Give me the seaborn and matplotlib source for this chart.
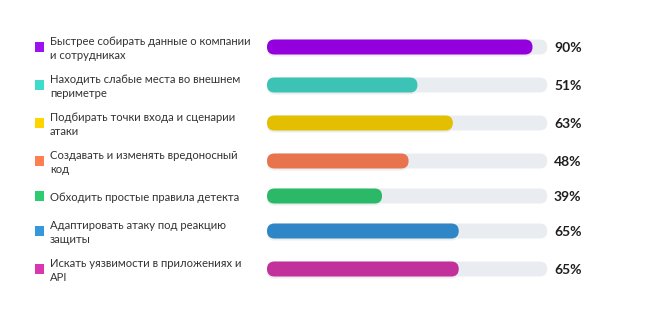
import numpy as np
import pandas as pd
import matplotlib
matplotlib.use('Agg')
import matplotlib.pyplot as plt
from matplotlib.patches import FancyBboxPatch
import seaborn as sns

# Data
labels = [
    "Быстрее собирать данные о компании\nи сотрудниках",
    "Находить слабые места во внешнем\nпериметре",
    "Подбирать точки входа и сценарии\nатаки",
    "Создавать и изменять вредоносный\nкод",
    "Обходить простые правила детекта",
    "Адаптировать атаку под реакцию\nзащиты",
    "Искать уязвимости в приложениях и\nAPI",
]
values = [90, 51, 63, 48, 39, 65, 65]
marker_colors = ["#9B12EE", "#40DCCB", "#FFD400", "#FF7F50", "#2ECC71", "#3498DB", "#D936B0"]
bar_colors = ["#9200DE", "#3CC3B5", "#E4BE00", "#E8744E", "#2BB968", "#2E86C6", "#C1309B"]
track_max = 95

# Layout (pixels)
W, H, DPI = 650, 314, 100
X0 = 267          # left edge of bars
PX = 2.95         # pixels per percent
BAR_H = 15
TRACK = "#E9EDF1"

# row centres from number of label lines
nlines = [l.count("\n") + 1 for l in labels]
ypos = [47.0]
for a, b in zip(nlines[:-1], nlines[1:]):
    ypos.append(ypos[-1] + 26 + 3 * (a + b))

df = pd.DataFrame({"label": labels, "value": values, "y": ypos, "track": track_max})

sns.set_theme(style="white")
plt.rcParams['font.family'] = ['Lato', 'DejaVu Sans']

fig = plt.figure(figsize=(W / DPI, H / DPI), dpi=DPI)
ax = fig.add_axes([0, 0, 1, 1])

sns.barplot(data=df, x="track", y="y", orient="h", native_scale=True,
            color=TRACK, saturation=1, ax=ax)
sns.barplot(data=df, x="value", y="y", hue="label", palette=bar_colors,
            orient="h", native_scale=True, legend=False, saturation=1, ax=ax)

ax.set_xlim(-X0 / PX, (W - X0) / PX)
ax.set_ylim(H, 0)
ax.axis("off")

# swap rectangles for rounded bars
r_x = (BAR_H / 2) / PX
patches = list(ax.patches)
for i, p in enumerate(patches):
    x, w = p.get_x(), p.get_width()
    yc = p.get_y() + p.get_height() / 2
    fc = p.get_facecolor()
    p.remove()
    if i >= len(values):
        shadow = FancyBboxPatch((x, yc - BAR_H / 2 + 2), w, BAR_H,
                                boxstyle=f"round,pad=0,rounding_size={r_x}",
                                mutation_aspect=PX, fc="#000000", ec="none",
                                alpha=0.07, zorder=2)
        ax.add_patch(shadow)
    bar = FancyBboxPatch((x, yc - BAR_H / 2), w, BAR_H,
                         boxstyle=f"round,pad=0,rounding_size={r_x}",
                         mutation_aspect=PX, fc=fc, ec="none", zorder=3)
    ax.add_patch(bar)

def px(x):
    return (x - X0) / PX

# markers, labels, percentages
ax.scatter([px(39.5)] * len(values), ypos, marker="s", s=46, c=marker_colors,
           linewidths=0, zorder=4, clip_on=False)
for lab, v, y in zip(labels, values, ypos):
    ax.text(px(50), y + 1.5, lab, fontsize=8.1, color="#333333", va="center",
            ha="left", linespacing=1.4)
    ax.text(px(554), y + 1, f"{v}%", fontsize=10, color="#1E1E1E",
            fontweight="bold", va="center", ha="left")

fig.savefig("out.png", dpi=DPI, facecolor="white")
plt.close(fig)
